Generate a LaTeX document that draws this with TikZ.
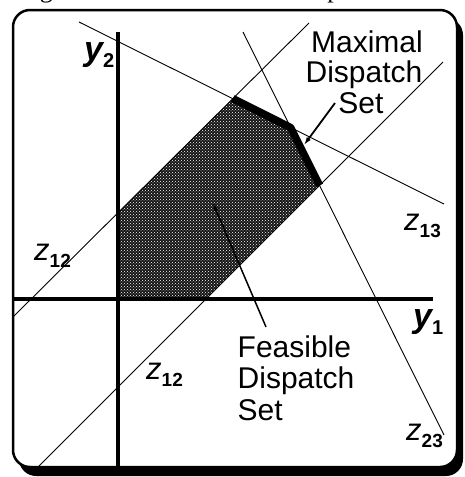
\documentclass[tikz,border=0pt]{standalone}
\usepackage{fontspec}
\setmainfont{Liberation Sans}
\newfontfamily\capfont{Liberation Serif}
\usetikzlibrary{patterns,arrows.meta}
\newcommand{\mylabz}[2]{{\fontsize{31}{31}\selectfont\itshape #1}\raisebox{-7pt}{\fontsize{19}{19}\selectfont\bfseries #2}}
\newcommand{\mylaby}[2]{{\fontsize{34}{34}\selectfont\bfseries\itshape #1}\raisebox{-7.5pt}{\fontsize{20}{20}\selectfont\bfseries #2}}
\begin{document}
\begin{tikzpicture}[x=1pt,y=-1pt,
  thinline/.style={line width=0.9pt},
  axisline/.style={line width=4pt},
  txt/.style={inner sep=0pt, font=\fontsize{30}{31}\selectfont},
  lab/.style={inner sep=0pt, anchor=base west},
  pointer/.style={line width=1.8pt, -{Latex[length=8pt,width=5pt]}}]
\useasboundingbox (0,0) rectangle (465,477);
% caption fragment (clipped, as in the reference)
\begin{scope}
\clip (0,0) rectangle (465,9);
\node[inner sep=0pt, anchor=base west, font=\capfont\fontsize{26}{26}\selectfont] (cap1) at (18,-3) {Figure};
\node[inner sep=0pt, anchor=base west, font=\capfont\fontsize{26}{26}\selectfont] (cap2) at (291,-3) {Dispatch};
\end{scope}
% frame with shadow
\fill[black, rounded corners=17pt] (19,18) rectangle (463,476);
\filldraw[fill=white, draw=black, line width=2.5pt, rounded corners=17pt] (13,10) rectangle (457,467);
% feasible region
\coordinate (P1) at (118,212.7);
\coordinate (P2) at (118,299);
\coordinate (P3) at (206,299);
\coordinate (P4) at (319.6,185.4);
\coordinate (P5) at (290.6,127.5);
\coordinate (P6) at (232.9,98.6);
\fill[black!92] (P1) -- (P2) -- (P3) -- (P4) -- (P5) -- (P6) -- cycle;
\fill[pattern=crosshatch dots, pattern color=white] (P1) -- (P2) -- (P3) -- (P4) -- (P5) -- (P6) -- cycle;
% constraint lines
\coordinate (a1) at (13,317);  \coordinate (a2) at (309,23);
\coordinate (b1) at (38,467);  \coordinate (b2) at (443,62);
\coordinate (c1) at (79,22);   \coordinate (c2) at (444,204);
\coordinate (d1) at (243,32);  \coordinate (d2) at (444,435);
\draw[thinline] (a1) -- (a2);
\draw[thinline] (b1) -- (b2);
\draw[thinline] (c1) -- (c2);
\draw[thinline] (d1) -- (d2);
% axes
\coordinate (v1) at (118,32);  \coordinate (v2) at (118,467);
\coordinate (h1) at (13,299);  \coordinate (h2) at (433,299);
\draw[axisline] (v1) -- (v2);
\draw[axisline] (h1) -- (h2);
% maximal dispatch set
\draw[line width=7.5pt, line join=round] (P6) -- (P5) -- (P4);
% labels
\node[lab] (y2) at (84,60) {\mylaby{y}{2}};
\node[lab] (y1) at (413,327) {\mylaby{y}{1}};
\node[lab] (z12a) at (34,260) {\mylabz{z}{12}};
\node[lab] (z12b) at (146,379) {\mylabz{z}{12}};
\node[lab] (z13) at (404,230) {\mylabz{z}{13}};
\node[lab] (z23) at (406,440) {\mylabz{z}{23}};
% texts
\node[txt, anchor=base] (m1) at (367,52) {Maximal};
\node[txt, anchor=base] (m2) at (364,82) {Dispatch};
\node[txt, anchor=base] (m3) at (361,113) {Set};
\node[txt, anchor=base west] (f1) at (237.5,357) {Feasible};
\node[txt, anchor=base west] (f2) at (237.5,388.5) {Dispatch};
\node[txt, anchor=base west] (f3) at (237.5,420) {Set};
% pointers
\coordinate (mp1) at (335,103);  \coordinate (mp2) at (304,145);
\coordinate (fp1) at (266,327);  \coordinate (fp2) at (213,203);
\draw[pointer] (mp1) -- (mp2);
\draw[pointer, line width=1.5pt] (fp1) -- (fp2);
\end{tikzpicture}
\end{document}
